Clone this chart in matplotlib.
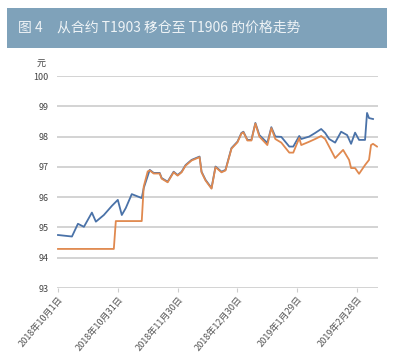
import matplotlib
matplotlib.use("Agg")
import matplotlib.pyplot as plt
import pandas as pd

plt.rcParams['font.family'] = ['Noto Sans CJK SC', 'DejaVu Sans']

# T1903 (blue)
t1903_dates = [
    "2018-10-01", "2018-10-08", "2018-10-11", "2018-10-14", "2018-10-18", "2018-10-20",
    "2018-10-22", "2018-10-24", "2018-10-28", "2018-10-31", "2018-11-02", "2018-11-04",
    "2018-11-07", "2018-11-12", "2018-11-13", "2018-11-16", "2018-11-18", "2018-11-21",
    "2018-11-22", "2018-11-25", "2018-11-28", "2018-11-30", "2018-12-02", "2018-12-04",
    "2018-12-07", "2018-12-11", "2018-12-12", "2018-12-14", "2018-12-17", "2018-12-19",
    "2018-12-22", "2018-12-24", "2018-12-27", "2018-12-30", "2019-01-01", "2019-01-02",
    "2019-01-04", "2019-01-06", "2019-01-08", "2019-01-10", "2019-01-14", "2019-01-16",
    "2019-01-18", "2019-01-21", "2019-01-25", "2019-01-27", "2019-01-30", "2019-01-31",
    "2019-02-04", "2019-02-07", "2019-02-10", "2019-02-12", "2019-02-14", "2019-02-17",
    "2019-02-20", "2019-02-23", "2019-02-25", "2019-02-27", "2019-03-01", "2019-03-04",
    "2019-03-05", "2019-03-06", "2019-03-08",
]
t1903_price = [
    94.75, 94.70, 95.12, 95.02, 95.49, 95.19,
    95.30, 95.41, 95.71, 95.91, 95.41, 95.64,
    96.10, 95.97, 96.30, 96.90, 96.80, 96.80,
    96.63, 96.51, 96.84, 96.73, 96.84, 97.06,
    97.23, 97.34, 96.84, 96.57, 96.30, 97.01,
    96.84, 96.90, 97.62, 97.83, 98.12, 98.16,
    97.89, 97.89, 98.45, 98.05, 97.79, 98.31,
    98.00, 97.99, 97.67, 97.67, 98.02, 97.92,
    98.00, 98.12, 98.25, 98.12, 97.92, 97.80,
    98.16, 98.05, 97.76, 98.13, 97.89, 97.89,
    98.78, 98.61, 98.58,
]

# rolled position T1903 -> T1906 (orange)
roll_dates = [
    "2018-10-01", "2018-10-29", "2018-10-30", "2018-11-12", "2018-11-13", "2018-11-15",
    "2018-11-16", "2018-11-18", "2018-11-21", "2018-11-22",
    "2018-11-25", "2018-11-28", "2018-11-30", "2018-12-02", "2018-12-04", "2018-12-07",
    "2018-12-11", "2018-12-12", "2018-12-14", "2018-12-17", "2018-12-19", "2018-12-22",
    "2018-12-24", "2018-12-27", "2018-12-30", "2019-01-01", "2019-01-02", "2019-01-04",
    "2019-01-06", "2019-01-08", "2019-01-10", "2019-01-14", "2019-01-16", "2019-01-18",
    "2019-01-21", "2019-01-25", "2019-01-27", "2019-01-30", "2019-01-31", "2019-02-04",
    "2019-02-07", "2019-02-10", "2019-02-12", "2019-02-14", "2019-02-17", "2019-02-21",
    "2019-02-24", "2019-02-25", "2019-02-27", "2019-03-01", "2019-03-04", "2019-03-06",
    "2019-03-07", "2019-03-08", "2019-03-10",
]
roll_price = [
    94.29, 94.29, 95.21, 95.21, 96.35, 96.85,
    96.88, 96.78, 96.78, 96.61,
    96.49, 96.82, 96.71, 96.82, 97.04, 97.21,
    97.32, 96.82, 96.55, 96.28, 96.99, 96.82,
    96.88, 97.60, 97.81, 98.10, 98.14, 97.87,
    97.87, 98.43, 98.00, 97.72, 98.28, 97.92,
    97.80, 97.47, 97.47, 97.95, 97.72, 97.83,
    97.92, 98.02, 97.92, 97.67, 97.29, 97.56,
    97.23, 96.96, 96.96, 96.77, 97.06, 97.23,
    97.72, 97.76, 97.67,
]

y_ticks = [93, 94, 95, 96, 97, 98, 99, 100]
x_tick_dates = ["2018-10-01", "2018-10-31", "2018-11-30", "2018-12-30", "2019-01-29", "2019-02-28"]
x_tick_labels = ["2018年10月1日", "2018年10月31日", "2018年11月30日",
                 "2018年12月30日", "2019年1月29日", "2019年2月28日"]

title_num = "图 4"
title = "从合约 T1903 移仓至 T1906 的价格走势"

fig = plt.figure(figsize=(3.94, 3.59), dpi=100)

# header band
fig.patches.append(plt.Rectangle((7 / 394, 1 - 48 / 359), 380 / 394, 40 / 359,
                                 transform=fig.transFigure, facecolor="#7fa2ba",
                                 edgecolor="none", zorder=0))
fig.text(18 / 394, 1 - 28 / 359, title_num, color="#eef3f6", fontsize=10,
         va="center", ha="left")
fig.text(57 / 394, 1 - 28 / 359, title, color="#eef3f6", fontsize=10,
         va="center", ha="left")

ax = fig.add_axes([57 / 394, 1 - 288 / 359, 321 / 394, 212 / 359])

ax.plot(pd.to_datetime(t1903_dates), t1903_price, color="#4a72a8", lw=1.3, zorder=3)
ax.plot(pd.to_datetime(roll_dates), roll_price, color="#e0894f", lw=1.3, zorder=4)

ax.set_ylim(93, 100)
ax.set_yticks(y_ticks)
ax.set_xlim(pd.Timestamp("2018-09-30 12:00"), pd.Timestamp("2019-03-10 12:00"))
ax.set_xticks(pd.to_datetime(x_tick_dates))
ax.set_xticklabels(x_tick_labels, rotation=50, ha="right", rotation_mode="anchor",
                   fontsize=6.6, color="#555555")
ax.grid(axis="y", color="#d0d0d0", lw=1.3)
ax.set_axisbelow(True)
for s in ax.spines.values():
    s.set_visible(False)
ax.tick_params(axis="y", length=0, labelsize=6.5, labelcolor="#444444", pad=6)
ax.tick_params(axis="x", length=3, color="#cccccc", pad=2)

ax.text(-0.035, 1.035, "元", transform=ax.transAxes, fontsize=6.5, color="#444444",
        ha="right", va="bottom")

fig.savefig("out.png", dpi=100)
